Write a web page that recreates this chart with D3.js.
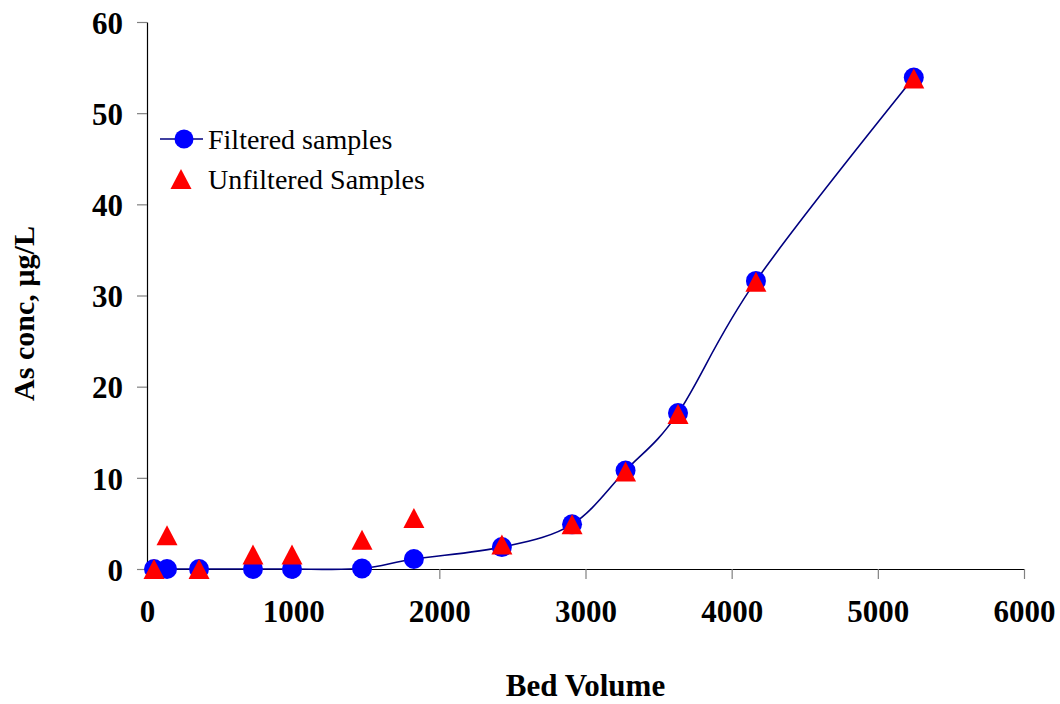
<!DOCTYPE html>
<html>
<head>
<meta charset="utf-8">
<script src="https://cdn.jsdelivr.net/npm/d3@7"></script>
<style>
  html, body { margin: 0; padding: 0; background: #fff; }
  svg { display: block; }
  text { font-family: "Liberation Serif", "Times New Roman", serif; }
</style>
</head>
<body>
<svg id="chart" width="1060" height="704"></svg>
<script>
const bedVolume   = [48, 137, 356, 725, 992, 1471, 1826, 2428, 2908, 3274, 3633, 4166, 5246];
const filtered    = [0, 0, 0, 0, 0, 0.05, 1.1, 2.4, 4.9, 10.8, 17.1, 31.6, 53.9];
const unfiltered  = [0, 3.7, 0, 1.6, 1.6, 3.2, 5.6, 2.7, 4.9, 10.7, 17.0, 31.5, 53.8];
const xTicks = [0, 1000, 2000, 3000, 4000, 5000, 6000];
const yTicks = [0, 10, 20, 30, 40, 50, 60];
const seriesNames = ["Filtered samples", "Unfiltered Samples"];
const xTitle = "Bed Volume";
const yTitle = "As conc, µg/L";

const svg = d3.select("#chart");
const x = d3.scaleLinear().domain([0, 6000]).range([147, 1024]);
const y = d3.scaleLinear().domain([0, 60]).range([569, 22]);

// Axes
const xAxis = svg.append("g").attr("transform", `translate(0,${y(0)})`)
  .call(d3.axisBottom(x).tickValues(xTicks).tickFormat(d3.format("d")).tickSize(10).tickSizeOuter(0).tickPadding(21));
const yAxis = svg.append("g").attr("transform", `translate(${x(0)},0)`)
  .call(d3.axisLeft(y).tickValues(yTicks).tickFormat(d3.format("d")).tickSize(10).tickSizeOuter(0).tickPadding(14));

[xAxis, yAxis].forEach(g => {
  g.select(".domain").attr("stroke", "#000").attr("stroke-width", 1.2);
  g.selectAll(".tick line").attr("stroke", "#808080").attr("stroke-width", 1.2);
  g.selectAll(".tick text")
    .attr("fill", "#000")
    .style("font-family", '"Liberation Serif", serif')
    .style("font-weight", "bold")
    .style("font-size", "31px");
});
yAxis.selectAll(".tick text").attr("dy", "0.36em");

// Titles
svg.append("text")
  .attr("x", (x(0) + x(6000)) / 2)
  .attr("y", 696)
  .attr("text-anchor", "middle")
  .style("font-weight", "bold").style("font-size", "31px")
  .text(xTitle);
svg.append("text")
  .attr("transform", `translate(34,${(y(0) + y(60)) / 2 + 18}) rotate(-90)`)
  .attr("text-anchor", "middle")
  .style("font-weight", "bold").style("font-size", "30px")
  .text(yTitle);

// Data
const pts = bedVolume.map((b, i) => ({ b, f: filtered[i], u: unfiltered[i] }));

const line = d3.line().x(d => x(d.b)).y(d => y(d.f)).curve(d3.curveCardinal.tension(0));
svg.append("path").datum(pts)
  .attr("fill", "none").attr("stroke", "#000080").attr("stroke-width", 1.6)
  .attr("d", line);

svg.append("g").selectAll("circle").data(pts).join("circle")
  .attr("cx", d => x(d.b)).attr("cy", d => y(d.f)).attr("r", 10)
  .attr("fill", "#0000ff");

const tri = "M0,-10L10.5,10L-10.5,10Z";
svg.append("g").selectAll("path").data(pts).join("path")
  .attr("d", tri)
  .attr("transform", d => `translate(${x(d.b)},${y(d.u)})`)
  .attr("fill", "#ff0000");

// Legend
const lg = svg.append("g");
lg.append("line").attr("x1", 160).attr("x2", 203).attr("y1", 139).attr("y2", 139)
  .attr("stroke", "#000080").attr("stroke-width", 1.6);
lg.append("circle").attr("cx", 184).attr("cy", 139).attr("r", 9.5).attr("fill", "#0000ff");
lg.append("path").attr("d", tri).attr("transform", "translate(181,179)").attr("fill", "#ff0000");
lg.append("text").attr("x", 208).attr("y", 139).attr("dy", "0.34em")
  .style("font-size", "28px").text(seriesNames[0]);
lg.append("text").attr("x", 208).attr("y", 179).attr("dy", "0.34em")
  .style("font-size", "28px").text(seriesNames[1]);
</script>
</body>
</html>
